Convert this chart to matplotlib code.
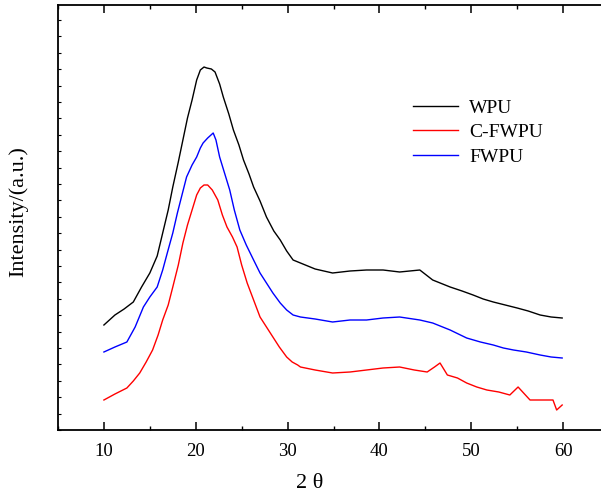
import matplotlib
matplotlib.use("Agg")
import matplotlib.pyplot as plt
from matplotlib.ticker import MultipleLocator, NullFormatter

plt.rcParams['font.family'] = ['Liberation Serif', 'DejaVu Serif']

# 2-theta (degrees) and intensity (arbitrary units)
wpu_x = [10, 11.2, 12.2, 13.2, 14.1, 15, 15.8, 16.4, 17.0, 17.5, 18.1, 18.6, 19.1, 19.6, 20.1,
         20.5, 20.9, 21.2, 21.7, 22.1, 22.6, 23, 23.6, 24.1, 24.7, 25.2, 25.8, 26.3, 27.0,
         27.7, 28.5, 29.2, 29.9, 30.6, 31.4, 33.0, 34.9, 36.8, 38.6, 40.4, 42.2, 44.4,
         45.8, 47.7, 49.0, 50.2, 51.3, 52.4, 53.7, 55, 56.2, 57.5, 58.7, 59.9]
wpu_y = [105, 115, 121, 128, 143, 157, 174, 197, 220, 243, 268, 290, 312, 330, 350,
         360, 363, 362, 361, 358, 346, 333, 316, 300, 285, 270, 256, 243, 229,
         213, 199, 190, 179, 170, 167, 161, 157, 159, 160, 160, 158, 160,
         150, 143, 139, 135, 131, 128, 125, 122, 119, 115, 113, 112]

cfwpu_x = [10, 11.2, 12.5, 13.2, 13.9, 14.6, 15.3, 15.9, 16.4, 17.0, 17.5, 18.1, 18.6, 19.1,
           19.7, 20.1, 20.5, 20.9, 21.3, 21.8, 22.4, 22.9, 23.4, 24.0, 24.5, 25.0, 25.6,
           26.3, 27, 27.7, 28.4, 29.1, 29.9, 30.5, 31.1, 31.4, 33.0, 34.9, 36.8, 38.6,
           40.4, 42.2, 43.8, 45.2, 46.0, 46.6, 47.4, 48.5, 49.5, 50.6, 51.7, 53.0, 54.2,
           55.1, 55.8, 56.4, 57.6, 58.9, 59.3, 59.9]
cfwpu_y = [30, 36, 42, 49, 57, 68, 80, 95, 110, 125, 143, 165, 187, 205,
           223, 235, 242, 245, 245, 240, 230, 215, 203, 193, 183, 165, 147,
           130, 113, 103, 93, 83, 73, 68, 65, 63, 60, 57, 58, 60,
           62, 63, 60, 58, 63, 67, 55, 52, 47, 43, 40, 38, 35,
           43, 36, 30, 30, 30, 20, 25]

fwpu_x = [10, 11.2, 12.5, 13.4, 14.3, 15.0, 15.8, 16.4, 16.9, 17.5, 18, 18.5, 19, 19.6,
          20.1, 20.5, 20.8, 21.3, 21.9, 22.2, 22.6, 23.2, 23.7, 24.2, 24.8, 25.5, 26.3,
          27.0, 27.7, 28.4, 29.2, 29.9, 30.6, 31.4, 33.0, 34.9, 36.8, 38.6, 40.4, 42.2,
          44.4, 45.8, 47.7, 49.5, 51.0, 52.4, 53.5, 54.6, 56.0, 57.5, 58.7, 59.9]
fwpu_y = [78, 83, 88, 103, 123, 133, 143, 160, 177, 197, 217, 235, 253, 265,
          273, 282, 287, 292, 297, 290, 273, 255, 240, 220, 200, 185, 170,
          157, 147, 137, 127, 120, 115, 113, 111, 108, 110, 110, 112, 113,
          110, 107, 100, 92, 88, 85, 82, 80, 78, 75, 73, 72]

labels = ['WPU', 'C-FWPU', 'FWPU']
colors = ['#000000', '#ff0000', '#0000ff']

fig = plt.figure(figsize=(6.01, 4.96), dpi=100)
W, H = 601, 496
ax = fig.add_axes([58 / W, (H - 430) / H, 551 / W, 425 / H])

ax.plot(wpu_x, wpu_y, color=colors[0], lw=1.0, label=labels[0])
ax.plot(cfwpu_x, cfwpu_y, color=colors[1], lw=1.0, label=labels[1])
ax.plot(fwpu_x, fwpu_y, color=colors[2], lw=1.0, label=labels[2])

ax.set_xlim(5, 65)
ax.set_ylim(0, 425)
ax.xaxis.set_major_locator(MultipleLocator(10))
ax.xaxis.set_minor_locator(MultipleLocator(5))
ax.yaxis.set_major_locator(MultipleLocator(16.4))
ax.yaxis.set_major_formatter(NullFormatter())
ax.tick_params(axis='x', which='major', direction='in', length=6, width=1.1,
               labelsize=13.5, pad=9, top=True)
ax.tick_params(axis='x', which='minor', direction='in', length=3, width=1.0, top=True)
ax.tick_params(axis='y', which='major', direction='in', length=2.5, width=0.8, left=True, right=False)
for s in ax.spines.values():
    s.set_linewidth(1.3)

ax.set_xlabel('2 θ', fontsize=16)
ax.xaxis.set_label_coords((310 - 58) / 551, (430 - 474) / 425)
ax.set_ylabel('Intensity/(a.u.)', fontsize=16)
ax.yaxis.set_label_coords(-(58 - 28) / 551, (430 - 212) / 425)

ax.legend(loc='upper left', bbox_to_anchor=(413 / W, 1 - 99 / H), bbox_transform=fig.transFigure,
          frameon=False, fontsize=14, handlelength=2.3, handletextpad=0.6,
          labelspacing=0.36, borderpad=0, borderaxespad=0)

fig.savefig('out.png', dpi=100)
